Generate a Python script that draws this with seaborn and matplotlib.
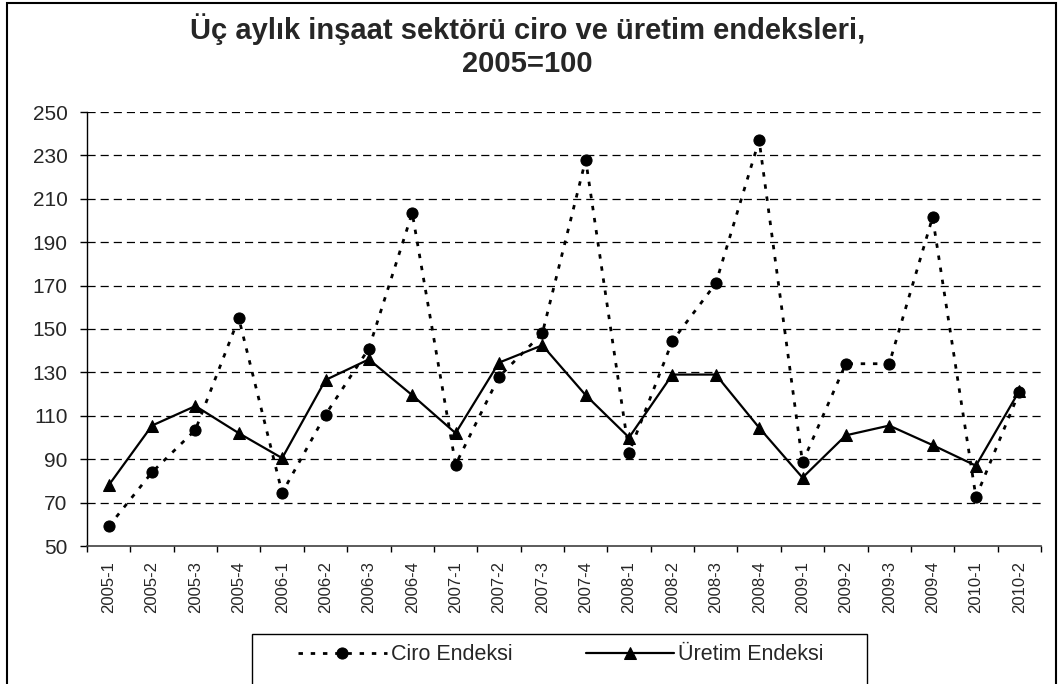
import matplotlib
matplotlib.use("Agg")
import matplotlib.pyplot as plt
from matplotlib.patches import Rectangle
from matplotlib.ticker import FixedLocator
import seaborn as sns
import numpy as np

# quarters on the x axis
quarters = ['2005-1', '2005-2', '2005-3', '2005-4',
            '2006-1', '2006-2', '2006-3', '2006-4',
            '2007-1', '2007-2', '2007-3', '2007-4',
            '2008-1', '2008-2', '2008-3', '2008-4',
            '2009-1', '2009-2', '2009-3', '2009-4',
            '2010-1', '2010-2']

# turnover index
ciro = [59, 84, 103.5, 155, 74.5, 110.5, 141, 203.5, 87.5, 128, 148, 228,
        93, 144.5, 171, 237, 88.5, 134, 134, 201.5, 72.5, 121]

# production index
uretim = [78, 105.5, 114.5, 102, 90.5, 126.5, 136, 119.5, 102, 134.5, 142.5, 119.5,
          100, 129, 129, 104.5, 81.5, 101, 105.5, 96.5, 87, 121.5]

series_names = ['Ciro Endeksi', 'Üretim Endeksi']
y_ticks = list(range(50, 251, 20))
title_lines = ['Üç aylık inşaat sektörü ciro ve üretim endeksleri,', '2005=100']

sns.set_theme(style='white')
plt.rcParams['font.family'] = ['Liberation Sans', 'DejaVu Sans']

fig = plt.figure(figsize=(10.59, 6.84), dpi=100)
ax = fig.add_axes([87/1059, 1 - 546/684, (1041 - 87)/1059, (546 - 112)/684])

x_pos = np.arange(len(quarters))

# Ciro: round-dot line with circles
sns.lineplot(x=x_pos, y=ciro, ax=ax, color='black', linewidth=2,
             marker='o', markersize=8, markeredgecolor='black',
             label=series_names[0], sort=False)
ax.lines[-1].set_dashes((1.6, 2.8))

# Uretim: solid line with triangles
sns.lineplot(x=x_pos, y=uretim, ax=ax, color='black', linewidth=1.6,
             marker='^', markersize=8.5, markeredgecolor='black',
             label=series_names[1], sort=False)

# axes styling
ax.set_xlim(-0.5, len(quarters) - 0.5)
ax.set_ylim(50, 250)
ax.set_yticks(y_ticks)
ax.set_yticklabels([str(v) for v in y_ticks], fontsize=15)
ax.set_xticks(x_pos)
ax.set_xticklabels(quarters, rotation=90, fontsize=12)
ax.xaxis.set_minor_locator(FixedLocator(np.arange(len(quarters) + 1) - 0.5))
ax.tick_params(axis='x', which='major', length=0, pad=11)
ax.tick_params(axis='x', which='minor', length=4.5, width=1, color='black', direction='out', bottom=True)
ax.tick_params(axis='y', which='major', length=5, width=1, color='black', direction='out', left=True, pad=9)
ax.set_xlabel('')
ax.set_ylabel('')

for v in y_ticks[1:]:
    ax.axhline(v, color='black', linewidth=0.9, linestyle=(0, (6.5, 4)), zorder=0)

for side in ['top', 'right']:
    ax.spines[side].set_visible(False)
ax.spines['left'].set_color('black')
ax.spines['bottom'].set_color('#404040')
ax.spines['left'].set_linewidth(1)
ax.spines['bottom'].set_linewidth(1.2)

# title
fig.text(0.498, 1 - 39/684, title_lines[0], ha='center', va='baseline',
         fontsize=21, fontweight='bold')
fig.text(0.498, 1 - 72/684, title_lines[1], ha='center', va='baseline',
         fontsize=21, fontweight='bold')

# legend below the chart, in its own box
handles, labels = ax.get_legend_handles_labels()
ax.legend(handles, labels, loc='center', bbox_to_anchor=(561/1059, 1 - 655/684),
          bbox_transform=fig.transFigure, ncol=2, frameon=False, fontsize=15.5,
          handlelength=4.1, handletextpad=0.2, columnspacing=3.4)
fig.patches.append(Rectangle((252/1059, -0.05), (867 - 252)/1059, 0.05 + 1 - 634/684,
                             transform=fig.transFigure, fill=False,
                             edgecolor='black', linewidth=1))

# outer chart border
fig.patches.append(Rectangle((7/1059, -0.05), (1056 - 7)/1059, 0.05 + 1 - 3/684,
                             transform=fig.transFigure, fill=False,
                             edgecolor='black', linewidth=1.5))

fig.savefig('out.png', dpi=100, facecolor='white')
